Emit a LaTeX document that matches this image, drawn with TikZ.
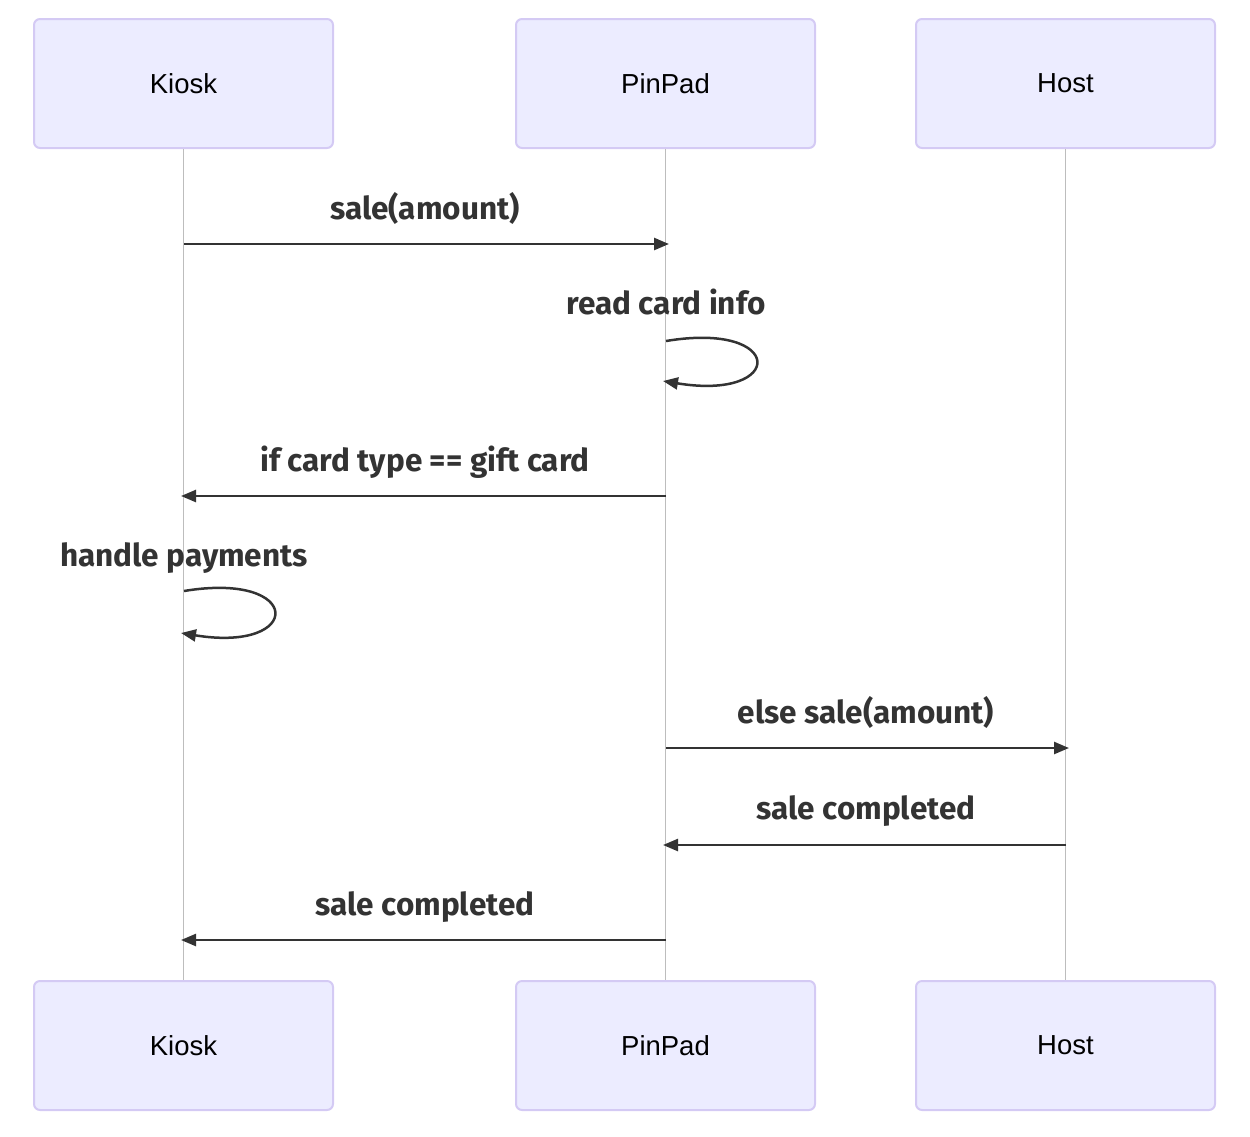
\documentclass[tikz,border=0pt]{standalone}
\usepackage{fontspec}
\setmainfont{Liberation Sans}
\newfontfamily\labfont{Fira Sans}
\usetikzlibrary{arrows.meta}
\definecolor{actfill}{HTML}{ECECFF}
\definecolor{actline}{HTML}{D4CAF4}
\definecolor{lifeline}{HTML}{BDBDBD}
\definecolor{msgcol}{HTML}{333333}
\tikzset{
  actor/.style={draw=actline, fill=actfill, line width=2pt, rounded corners=6pt,
    minimum width=299pt, minimum height=129pt, inner sep=0pt,
    font=\fontsize{27.5}{32}\selectfont, text=black},
  life/.style={draw=lifeline, line width=1.5pt},
  msg/.style={draw=msgcol, line width=2.5pt, -{Triangle[length=15pt,width=12pt]}},
  msglab/.style={anchor=base, inner sep=0pt, text=msgcol,
    font=\labfont\bfseries\fontsize{31.5}{36}\selectfont},
}
\begin{document}
\begin{tikzpicture}[x=1pt,y=-1pt]
\useasboundingbox (0,0) rectangle (1250,1136);
% actors top
\node[actor] (k1) at (183.5,83.5) {Kiosk};
\node[actor] (p1) at (665.5,83.5) {PinPad};
\node[actor] (h1) at (1065.5,83.5) {Host};
% actors bottom
\node[actor] (k2) at (183.5,1045.5) {Kiosk};
\node[actor] (p2) at (665.5,1045.5) {PinPad};
\node[actor] (h2) at (1065.5,1045.5) {Host};
% lifelines
\draw[life] (k1.south) -- (k2.north);
\draw[life] (p1.south) -- (p2.north);
\draw[life] (h1.south) -- (h2.north);
% coordinates on lifelines
\coordinate (k244) at (184,244);  \coordinate (p244) at (669,244);
\coordinate (p341) at (666,341);  \coordinate (p381) at (663,381);
\coordinate (p496) at (666,496);  \coordinate (k496) at (181,496);
\coordinate (k591) at (184,591);  \coordinate (k633) at (181,633);
\coordinate (p748) at (666,748);  \coordinate (h748) at (1069,748);
\coordinate (h845) at (1066,845); \coordinate (p845) at (663,845);
\coordinate (p940) at (666,940);  \coordinate (k940) at (181,940);
% messages
\node[msglab] (l1) at (425,219) {sale(amount)};
\draw[msg] (k244) -- (p244);
\node[msglab] (l2) at (666,314) {read card info};
\draw[msg] (p341) .. controls (786,321) and (786,401) .. (p381);
\node[msglab] (l3) at (425,471) {if card type == gift card};
\draw[msg] (p496) -- (k496);
\node[msglab] (l4) at (184,566) {handle payments};
\draw[msg] (k591) .. controls (304,571) and (304,653) .. (k633);
\node[msglab] (l5) at (866,723) {else sale(amount)};
\draw[msg] (p748) -- (h748);
\node[msglab] (l6) at (866,819) {sale completed};
\draw[msg] (h845) -- (p845);
\node[msglab] (l7) at (425,915) {sale completed};
\draw[msg] (p940) -- (k940);
\end{tikzpicture}
\end{document}
